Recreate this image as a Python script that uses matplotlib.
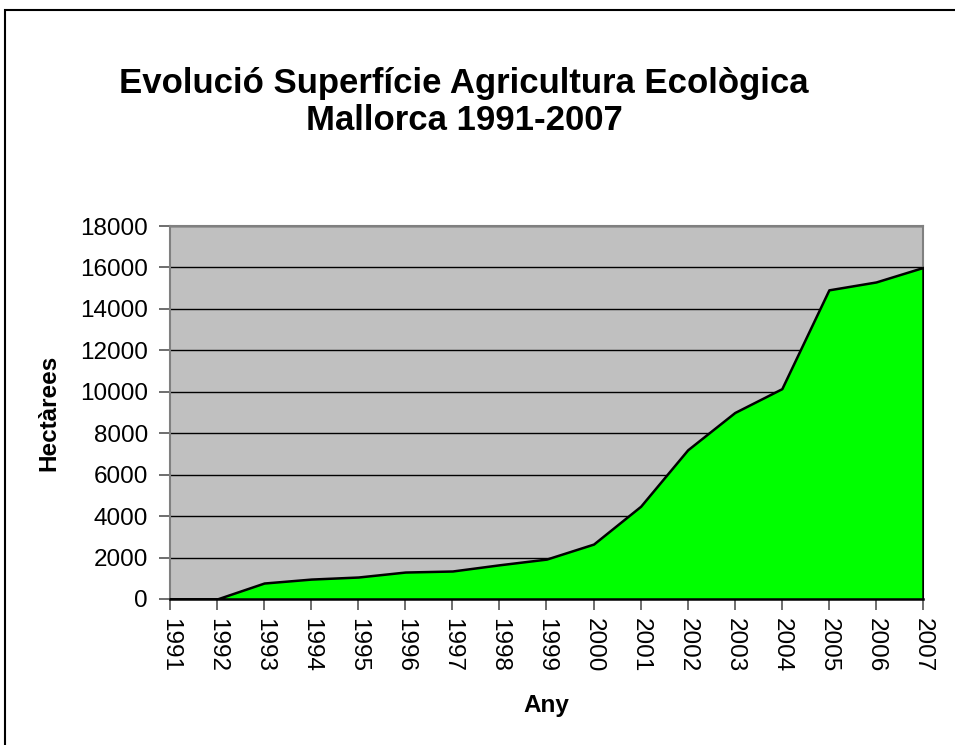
import matplotlib.pyplot as plt
from matplotlib.patches import Rectangle

plt.rcParams['font.family'] = ['Liberation Sans', 'DejaVu Sans']

years = [1991, 1992, 1993, 1994, 1995, 1996, 1997, 1998, 1999, 2000,
         2001, 2002, 2003, 2004, 2005, 2006, 2007]
hectares = [0, 0, 770, 960, 1060, 1300, 1350, 1650, 1925, 2650,
            4475, 7200, 9000, 10150, 14920, 15300, 16000]

fig = plt.figure(figsize=(9.55, 7.45), dpi=100)
ax = fig.add_axes([0.178, 0.196, 0.7885, 0.5006])

ax.set_facecolor('#C0C0C0')
ax.fill_between(years, hectares, 0, facecolor='#00FF00', edgecolor='black',
                linewidth=1.8, zorder=3)

ax.set_xlim(1991, 2007)
ax.set_ylim(0, 18000)
ax.set_yticks(range(0, 18001, 2000))
ax.set_xticks(years)
ax.set_xticklabels([str(y) for y in years], rotation=-90, va='top', ha='center')
ax.grid(axis='y', color='black', linewidth=1)
ax.set_axisbelow(True)

for s in ['top', 'right', 'left']:
    ax.spines[s].set_color('#808080')
    ax.spines[s].set_linewidth(1.5)
ax.spines['bottom'].set_color('black')
ax.spines['bottom'].set_linewidth(1.8)

ax.tick_params(axis='both', direction='out', length=8, width=1.2,
               color='#555555', labelsize=17.5)
ax.tick_params(axis='y', pad=8)
ax.tick_params(axis='x', pad=6)

ax.set_xlabel('Any', fontsize=17.5, fontweight='bold', labelpad=15)
ax.set_ylabel('Hectàrees', fontsize=17.5, fontweight='bold', labelpad=14)

fig.text(0.486, 0.863, 'Evolució Superfície Agricultura Ecològica\nMallorca 1991-2007',
         ha='center', va='center', fontsize=25, fontweight='bold',
         linespacing=1.15)

fig.patches.append(Rectangle((5 / 955, -0.1), 1.2, (735 / 745) + 0.1,
                             transform=fig.transFigure, fill=False,
                             edgecolor='black', linewidth=1.5))

fig.savefig('out.png', dpi=100)
